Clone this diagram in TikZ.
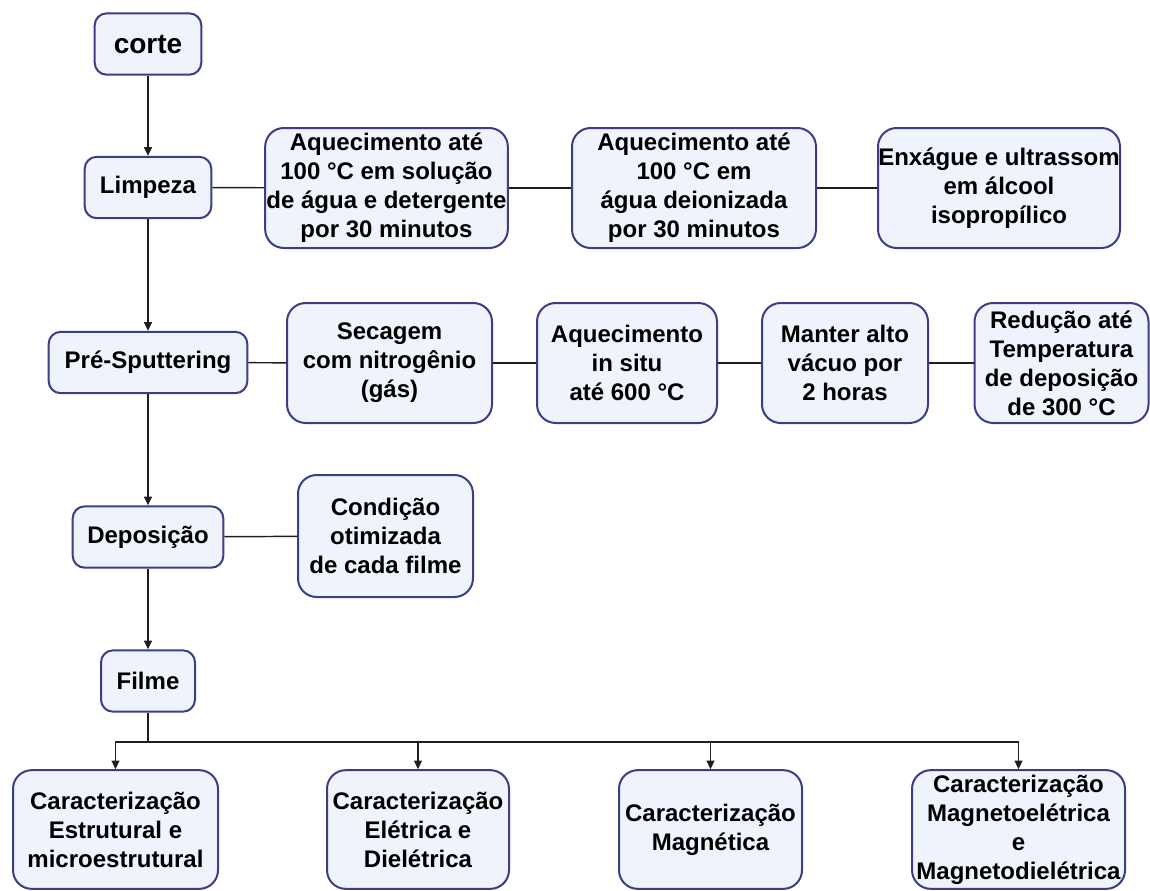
\documentclass[tikz,border=0pt]{standalone}
\usepackage{fontspec}
\setmainfont{Liberation Sans}
\usetikzlibrary{arrows.meta}
\definecolor{boxline}{RGB}{60,60,135}
\definecolor{boxfill}{RGB}{238,243,252}
\definecolor{wire}{RGB}{30,30,30}
\begin{document}
\begin{tikzpicture}[x=0.75pt,y=-0.75pt,
  box/.style={draw=boxline,fill=boxfill,line width=1.5pt,rounded corners=14pt,
    inner sep=0pt,align=center,font=\fontsize{18}{21.8}\selectfont\bfseries,
    minimum height=90pt},
  smallbox/.style={box,rounded corners=9pt,minimum height=46pt},
  wireline/.style={draw=wire,line width=1.1pt},
  arr/.style={wireline,-{Triangle[length=6.5pt,width=6pt]}}]
\useasboundingbox (0,0) rectangle (1150,890);
% main column
\node[smallbox,minimum width=80pt,font=\fontsize{21}{24}\selectfont\bfseries] (corte) at (148,44) {corte};
\node[smallbox,minimum width=95pt] (limpeza) at (148,187.5) {Limpeza};
\node[smallbox,minimum width=149pt] (pre) at (148,362.5) {Pré-Sputtering};
\node[smallbox,minimum width=113pt] (depo) at (148,537) {Deposição};
\node[smallbox,minimum width=70.5pt] (filme) at (148,681) {Filme};
% cleaning steps
\node[box,minimum width=182pt] (aq1) at (386.5,188) {Aquecimento até\\100 °C em solução\\de água e detergente\\por 30 minutos};
\node[box,minimum width=183pt] (aq2) at (694,188) {Aquecimento até\\100 °C em\\água deionizada\\por 30 minutos};
\node[box,minimum width=181.5pt] (enx) at (999,188) {Enxágue e ultrassom\\em álcool\\isopropílico};
% pre-sputtering steps
\node[box,minimum width=153.75pt] (sec) at (389.5,363) {Secagem\\com nitrogênio\\(gás)};
\node[box,minimum width=135pt] (situ) at (627,363) {Aquecimento\\in situ\\até 600 °C};
\node[box,minimum width=124.5pt] (vac) at (845,363) {Manter alto\\vácuo por\\2 horas};
\node[box,minimum width=130.5pt] (red) at (1061.5,363) {Redução até\\Temperatura\\de deposição\\de 300 °C};
% deposition condition
\node[box,minimum width=131.25pt,minimum height=91.5pt] (cond) at (385.5,536) {Condição\\otimizada\\de cada filme};
% characterisation
\node[box,minimum width=153.75pt,minimum height=89pt] (c1) at (115.5,829.5) {Caracterização\\Estrutural e\\microestrutural};
\node[box,minimum width=136.5pt,minimum height=89pt] (c2) at (418,829.5) {Caracterização\\Elétrica e\\Dielétrica};
\node[box,minimum width=137.25pt,minimum height=89pt] (c3) at (710.5,829.5) {Caracterização\\Magnética};
\node[box,minimum width=159.75pt,minimum height=89pt] (c4) at (1018.5,829.5) {Caracterização\\Magnetoelétrica\\e\\Magnetodielétrica};
% flow down the main column
\draw[arr] (corte) -- (limpeza);
\draw[arr] (limpeza) -- (pre);
\draw[arr] (pre) -- (depo);
\draw[arr] (depo) -- (filme);
% side chains
\draw[wireline] (limpeza) -- (aq1);
\draw[wireline] (aq1) -- (aq2);
\draw[wireline] (aq2) -- (enx);
\draw[wireline] (pre) -- (sec);
\draw[wireline] (sec) -- (situ);
\draw[wireline] (situ) -- (vac);
\draw[wireline] (vac) -- (red);
\draw[wireline] (depo) -- (cond);
% distribution bus
\coordinate (bus) at (148,742);
\draw[wireline] (filme) -- (bus);
\draw[arr] (bus) -| (c1.north);
\draw[arr] (bus) -| (c2.north);
\draw[arr] (bus) -| (c3.north);
\draw[arr] (bus) -| (c4.north);
\end{tikzpicture}
\end{document}
